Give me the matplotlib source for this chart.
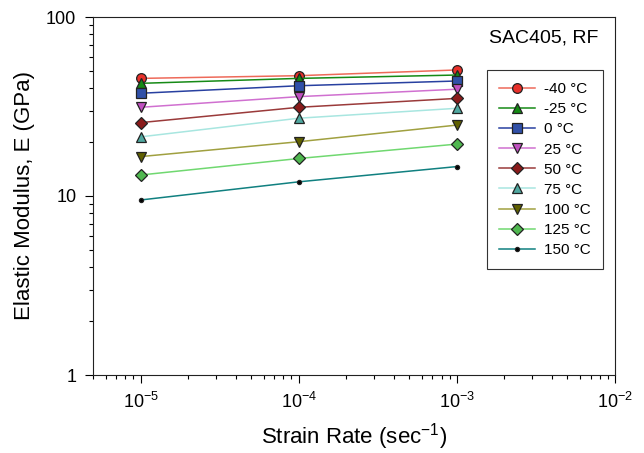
import matplotlib
matplotlib.use("Agg")
import matplotlib.pyplot as plt
from matplotlib.ticker import LogLocator, NullFormatter, FixedLocator

plt.rcParams['font.family'] = ['Liberation Sans', 'DejaVu Sans']
plt.rcParams['mathtext.fontset'] = 'custom'
plt.rcParams['mathtext.rm'] = 'Liberation Sans'
plt.rcParams['mathtext.it'] = 'Liberation Sans:italic'
plt.rcParams['mathtext.bf'] = 'Liberation Sans:bold'
plt.rcParams['mathtext.default'] = 'regular'

strain_rate = [1e-5, 1e-4, 1e-3]
labels = ['-40 °C', '-25 °C', '0 °C', '25 °C', '50 °C', '75 °C', '100 °C', '125 °C', '150 °C']
E_m40 = [45.4, 47.0, 50.6]
E_m25 = [42.6, 45.4, 47.4]
E_0 = [37.5, 41.3, 43.9]
E_25 = [31.3, 35.9, 39.5]
E_50 = [25.7, 31.3, 35.1]
E_75 = [21.4, 27.2, 30.9]
E_100 = [16.6, 20.1, 24.9]
E_125 = [13.1, 16.2, 19.5]
E_150 = [9.5, 12.0, 14.6]
series = [E_m40, E_m25, E_0, E_25, E_50, E_75, E_100, E_125, E_150]
xtick_labels = ['10$^{-5}$', '10$^{-4}$', '10$^{-3}$', '10$^{-2}$']

line_colors = ['#ee6a5a', '#168a16', '#2840a0', '#d070d0', '#9a3a3a', '#a8e6e0', '#a0a040', '#70d870', '#108080']
face_colors = ['#e8302a', '#148a14', '#3050a8', '#c050c0', '#8a1a1a', '#50a8a0', '#606000', '#50b850', '#000000']
markers = ['o', '^', 's', 'v', 'D', '^', 'v', 'D', 'o']
msizes = [7, 7, 7, 7, 6.5, 6.5, 6.5, 6.5, 3]

fig = plt.figure(figsize=(6.44, 4.53), dpi=100)
ax = fig.add_axes([93/644, 78/453, 522/644, 358/453])

for y, lab, lc, fc, m, ms in zip(series, labels, line_colors, face_colors, markers, msizes):
    ax.plot(strain_rate, y, color=lc, lw=1.1, marker=m, markersize=ms,
            markerfacecolor=fc, markeredgecolor='#222222', markeredgewidth=0.9, label=lab)

ax.set_xscale('log')
ax.set_yscale('log')
ax.set_xlim(5e-6, 1e-2)
ax.set_ylim(1, 100)

ax.xaxis.set_major_locator(FixedLocator([1e-5, 1e-4, 1e-3, 1e-2]))
ax.set_xticklabels(xtick_labels)
ax.xaxis.set_minor_locator(LogLocator(base=10, subs=range(2, 10), numticks=20))
ax.xaxis.set_minor_formatter(NullFormatter())
ax.yaxis.set_major_locator(FixedLocator([1, 10, 100]))
ax.set_yticklabels(['1', '10', '100'])
ax.yaxis.set_minor_locator(LogLocator(base=10, subs=range(2, 10), numticks=20))
ax.yaxis.set_minor_formatter(NullFormatter())

ax.tick_params(which='major', direction='out', length=6, width=0.8, labelsize=13, pad=6)
ax.tick_params(which='minor', direction='out', length=3, width=0.8)
for s in ax.spines.values():
    s.set_linewidth(0.8)
    s.set_color('#222222')

ax.set_xlabel('Strain Rate (sec$^{-1}$)', fontsize=16, labelpad=7)
ax.set_ylabel('Elastic Modulus, E (GPa)', fontsize=16, labelpad=8)

ax.text(0.969, 0.94, 'SAC405, RF', transform=ax.transAxes, ha='right', va='center', fontsize=14)

leg = ax.legend(loc='upper left', bbox_to_anchor=(0.755, 0.852), fontsize=11,
                frameon=True, fancybox=False, edgecolor='#333333', framealpha=1,
                handlelength=2.35, labelspacing=0.4, borderpad=0.8, handletextpad=0.6,
                borderaxespad=0)
leg.get_frame().set_linewidth(0.8)

fig.savefig('out.png', dpi=100)
